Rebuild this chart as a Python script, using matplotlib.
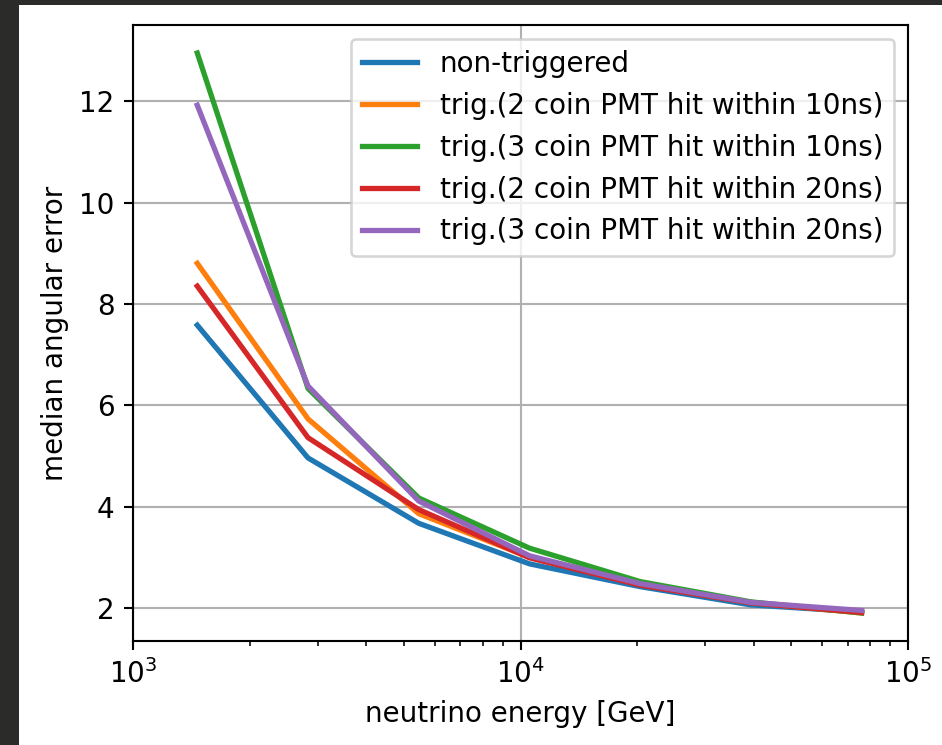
import matplotlib
matplotlib.use("Agg")
import matplotlib.pyplot as plt
from matplotlib.patches import Rectangle

# ------------------ DATA ------------------
energy = [1465, 2829, 5462, 10546, 20361, 39311, 75898]

labels = [
    "non-triggered",
    "trig.(2 coin PMT hit within 10ns)",
    "trig.(3 coin PMT hit within 10ns)",
    "trig.(2 coin PMT hit within 20ns)",
    "trig.(3 coin PMT hit within 20ns)",
]

err_nontrig = [7.58, 4.96, 3.67, 2.87, 2.42, 2.06, 1.92]
err_2coin_10 = [8.80, 5.73, 3.86, 3.00, 2.47, 2.11, 1.90]
err_3coin_10 = [12.95, 6.33, 4.17, 3.18, 2.52, 2.12, 1.90]
err_2coin_20 = [8.35, 5.36, 3.94, 2.99, 2.45, 2.10, 1.91]
err_3coin_20 = [11.92, 6.38, 4.11, 3.03, 2.48, 2.11, 1.95]

series = [err_nontrig, err_2coin_10, err_3coin_10, err_2coin_20, err_3coin_20]

# ------------------ PLOT ------------------
plt.rcParams["font.size"] = 10.5

DPI = 190
fig = plt.figure(figsize=(943 / DPI, 745 / DPI), dpi=DPI)
fig.patch.set_facecolor("#2b2b2a")
# white canvas inside the dark screenshot border
fig.patches.append(Rectangle((19 / 943, 0), 1 - 19 / 943, 740 / 745,
                             transform=fig.transFigure, facecolor="white",
                             edgecolor="none", zorder=-1))

ax = fig.add_axes([133 / 943, 104 / 745, 775 / 943, 616 / 745])

for y, lab in zip(series, labels):
    ax.plot(energy, y, lw=2, label=lab)

ax.set_xscale("log")
ax.set_xlim(1e3, 1e5)
ax.grid(True)
ax.set_xlabel("neutrino energy [GeV]")
ax.set_ylabel("median angular error")
ax.legend(loc="upper right")

plt.savefig("out.png", dpi=DPI, facecolor=fig.get_facecolor())
plt.close()
